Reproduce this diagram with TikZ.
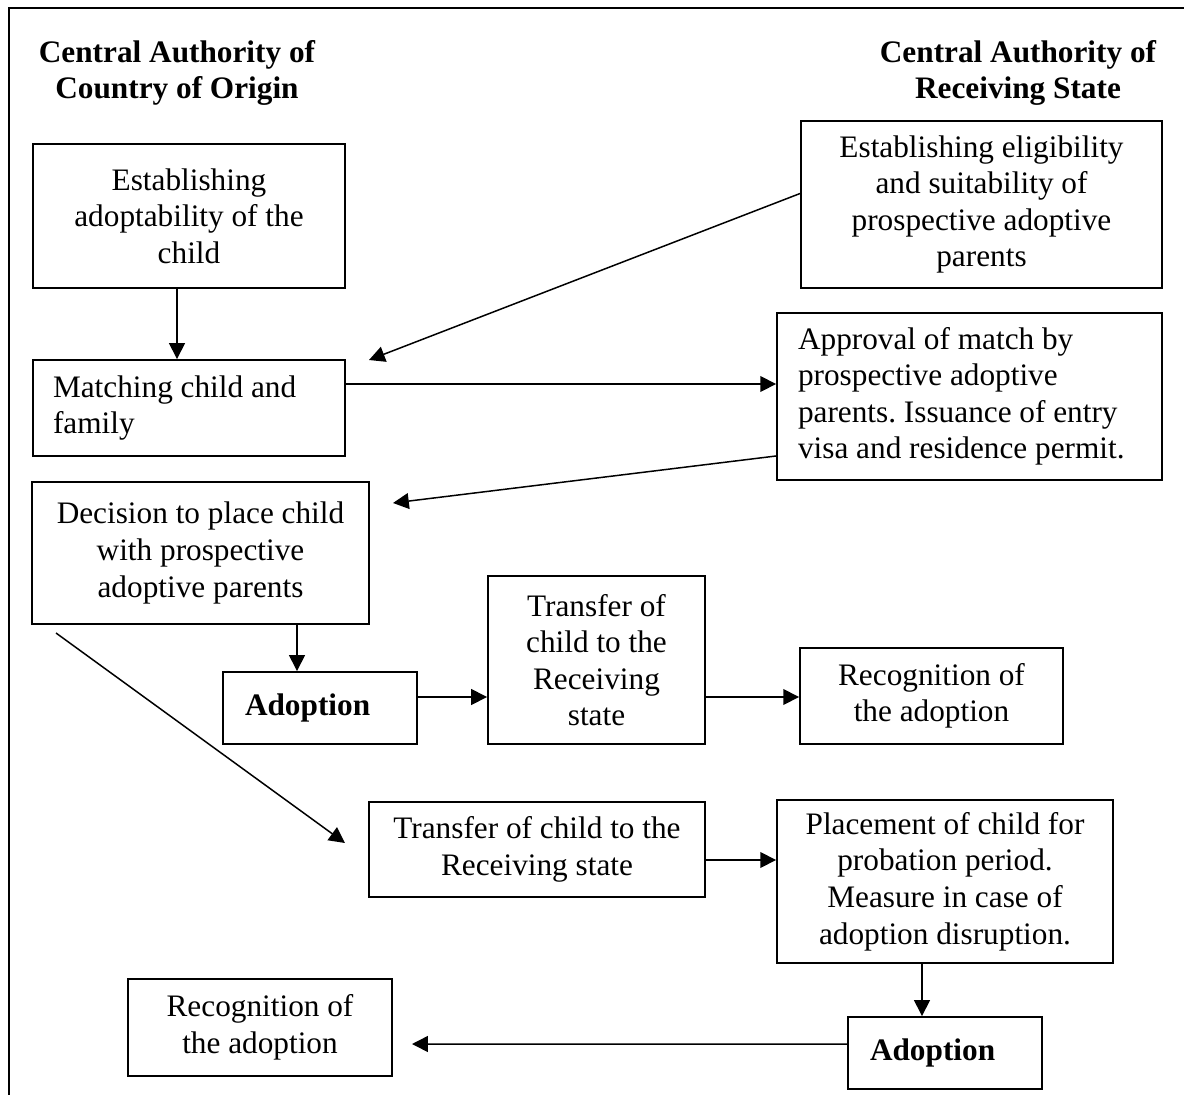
\documentclass[tikz,border=0pt]{standalone}
\usepackage{fontspec}
\setmainfont{Liberation Serif}
\usepackage{tikz}
\usetikzlibrary{arrows.meta, positioning, calc}
\newcommand{\boxfont}{\fontsize{17.8}{20.8}\selectfont}
\frenchspacing
\tikzset{
  box/.style={draw, line width=1.1pt, align=center, inner sep=0pt, font=\boxfont},
  lbox/.style={box, align=flush left},
  head/.style={align=center, inner sep=0pt, font=\boxfont\bfseries},
  arr/.style={-{Triangle[length=9pt,width=9pt]}, line width=0.85pt}
}

\begin{document}
\begin{tikzpicture}[x=0.02cm, y=-0.02cm]
  \useasboundingbox (0,0) rectangle (1184,1095);
  \draw[line width=1.1pt] (9,1095) -- (9,8) -- (1184,8);

  \node[head] (origin) at (177,73) {Central Authority of\\Country of Origin};
  \node[head] (recv) at (1018,73) {Central Authority of\\Receiving State};

  \node[box, minimum width=6.24cm, minimum height=2.88cm] (adopt) at (189,216) {Establishing\\adoptability of the\\child};
  \node[box, minimum width=7.22cm, minimum height=3.34cm] (elig) at (981.5,204.5) {Establishing eligibility\\and suitability of\\prospective adoptive\\parents};
  \node[lbox, text width=5.44cm, inner xsep=0.4cm, minimum height=1.92cm] (match) at (189,408) {Matching child and\\family};
  \node[lbox, text width=6.86cm, inner xsep=0.42cm, minimum height=3.34cm] (approv) at (969.5,396.5) {Approval of match by\\prospective adoptive\\parents. Issuance of entry\\visa and residence permit.};
  \node[box, minimum width=6.74cm, minimum height=2.84cm] (decide) at (200.5,553) {Decision to place child\\with prospective\\adoptive parents};
  \node[lbox, text width=3.0cm, inner xsep=0.44cm, minimum height=1.44cm] (adoptA) at (320,708) {\textbf{Adoption}};
  \node[box, minimum width=4.34cm, minimum height=3.36cm] (transA) at (596.5,660) {Transfer of\\child to the\\Receiving\\state};
  \node[box, minimum width=5.26cm, minimum height=1.92cm] (recogA) at (931.5,696) {Recognition of\\the adoption};
  \node[box, minimum width=6.72cm, minimum height=1.90cm] (transB) at (537,849.5) {Transfer of child to the\\Receiving state};
  \node[box, minimum width=6.72cm, minimum height=3.26cm] (place) at (945,881.5) {Placement of child for\\probation period.\\Measure in case of\\adoption disruption.};
  \node[box, minimum width=5.28cm, minimum height=1.94cm] (recogB) at (260,1027.5) {Recognition of\\the adoption};
  \node[lbox, text width=3.0cm, inner xsep=0.44cm, minimum height=1.44cm] (adoptB) at (945,1053) {\textbf{Adoption}};

  \coordinate (m1) at (369,360);
  \coordinate (m2) at (393,503);
  \coordinate (d0) at (56,633);
  \coordinate (d1) at (345,843);
  \coordinate (r1) at (412,1044);

  \draw[arr] ([xshift=-0.24cm]adopt.south) -- ([xshift=-0.24cm]match.north);
  \draw[arr] ([yshift=0.22cm]elig.west) -- (m1);
  \draw[arr] ([yshift=0.48cm]match.east) -- ([yshift=0.48cm]match.east -| approv.west);
  \draw[arr] ([yshift=-1.19cm]approv.west) -- (m2);
  \draw[arr] ([xshift=-0.46cm]adoptA.north |- decide.south) -- ([xshift=-0.46cm]adoptA.north);
  \draw[arr] (d0) -- (d1);
  \draw[arr] ([yshift=0.22cm]adoptA.east) -- ([yshift=0.22cm]adoptA.east -| transA.west);
  \draw[arr] ([yshift=0.22cm]adoptA.east -| transA.east) -- ([yshift=0.22cm]adoptA.east -| recogA.west);
  \draw[arr] ([yshift=-0.21cm]transB.east) -- ([yshift=-0.21cm]transB.east -| place.west);
  \draw[arr] ([xshift=-0.46cm]place.south) -- ([xshift=-0.46cm]adoptB.north);
  \draw[arr] ([yshift=0.18cm]adoptB.west) -- (r1);
\end{tikzpicture}
\end{document}
